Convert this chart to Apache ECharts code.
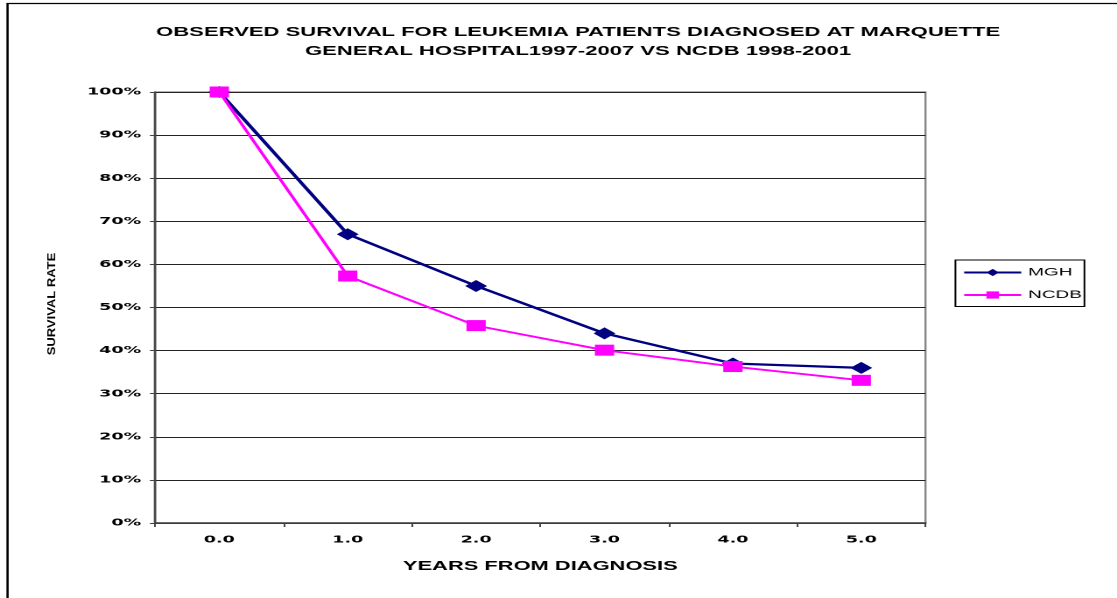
<!DOCTYPE html>
<html>
<head>
<meta charset="utf-8">
<script src="https://cdn.jsdelivr.net/npm/echarts@6/dist/echarts.min.js"></script>
<style>
html,body{margin:0;padding:0;background:#fff;overflow:hidden;width:1117px;height:598px;}
#c{width:638px;height:598px;transform:scaleX(1.7508);transform-origin:0 0;}
</style>
</head>
<body>
<div id="c"></div>
<script>
const categories = ['0.0', '1.0', '2.0', '3.0', '4.0', '5.0'];
const mgh = [100, 67, 55, 44, 37, 36];
const ncdb = [100, 57.3, 45.8, 40.1, 36.3, 33.1];
const titleLines = ['OBSERVED SURVIVAL FOR LEUKEMIA PATIENTS DIAGNOSED AT MARQUETTE', 'GENERAL HOSPITAL1997-2007 VS NCDB 1998-2001'];
const xAxisTitle = 'YEARS FROM DIAGNOSIS';
const yAxisTitle = 'SURVIVAL RATE';

const font = '"Liberation Sans", Arial, sans-serif';
const tickFont = '"DejaVu Sans", sans-serif';
const chart = echarts.init(document.getElementById('c'), null, { devicePixelRatio: 2 });
chart.setOption({
  animation: false,
  backgroundColor: '#fff',
  textStyle: { fontFamily: font },
  title: {
    text: titleLines.join('\n'),
    left: 325.2, top: 18, textAlign: 'center',
    textStyle: { fontFamily: font, fontSize: 12.6, fontWeight: 'bold', color: '#000', lineHeight: 19 }
  },
  graphic: [
    {
      type: 'rect', shape: { x: 4.3, y: 3.5, width: 700, height: 620 },
      style: { fill: 'none', stroke: '#000', lineWidth: 1.3 }, silent: true
    },
    {
      type: 'text', x: 29.5, y: 304, rotation: Math.PI / 2, scaleX: 1.3, scaleY: 0.66,
      style: { text: yAxisTitle, fontFamily: font, fontSize: 10, fontWeight: 'bold', fill: '#000', align: 'center', verticalAlign: 'middle' },
      silent: true
    }
  ],
  legend: {
    orient: 'vertical', left: 545.7, top: 260,
    data: ['MGH', 'NCDB'],
    itemWidth: 32.6, itemHeight: 9, itemGap: 11.5,
    borderColor: '#000', borderWidth: 1, padding: [7, 1.5, 6, 4],
    textStyle: { fontFamily: font, fontSize: 10.8, color: '#000', padding: [0, 0, 0, -1] }
  },
  grid: {
    left: 88.6, right: 109.4, top: 92, bottom: 75,
    show: true, borderColor: '#888', borderWidth: 1.2
  },
  xAxis: {
    type: 'category', data: categories, boundaryGap: true,
    name: xAxisTitle, nameLocation: 'middle', nameGap: 37,
    nameTextStyle: { fontFamily: font, fontSize: 12.5, fontWeight: 'bold', color: '#000' },
    axisLine: { lineStyle: { color: '#444', width: 1.5 } },
    axisTick: { show: true, alignWithLabel: false, length: 4, lineStyle: { color: '#444', width: 1 } },
    axisLabel: { fontFamily: tickFont, fontSize: 10, fontWeight: 'bold', color: '#000', margin: 12 },
    splitLine: { show: false }
  },
  yAxis: {
    type: 'value', min: 0, max: 100, interval: 10,
    axisLine: { show: true, lineStyle: { color: '#444', width: 1.3 } },
    axisTick: { show: true, length: 3, lineStyle: { color: '#444', width: 1 } },
    axisLabel: { fontFamily: tickFont, fontSize: 10, fontWeight: 'bold', color: '#000', margin: 8, formatter: '{value}%' },
    splitLine: { show: true, lineStyle: { color: '#222', width: 1 } }
  },
  series: [
    {
      name: 'MGH', type: 'line', data: mgh,
      symbol: 'diamond', symbolSize: [12.5, 12],
      lineStyle: { color: '#000080', width: 2.3 },
      itemStyle: { color: '#000080' }, z: 3
    },
    {
      name: 'NCDB', type: 'line', data: ncdb,
      symbol: 'rect', symbolSize: [11, 11],
      lineStyle: { color: '#FF00FF', width: 1.9 },
      itemStyle: { color: '#FF00FF' }, z: 4
    }
  ]
});
</script>
</body>
</html>
